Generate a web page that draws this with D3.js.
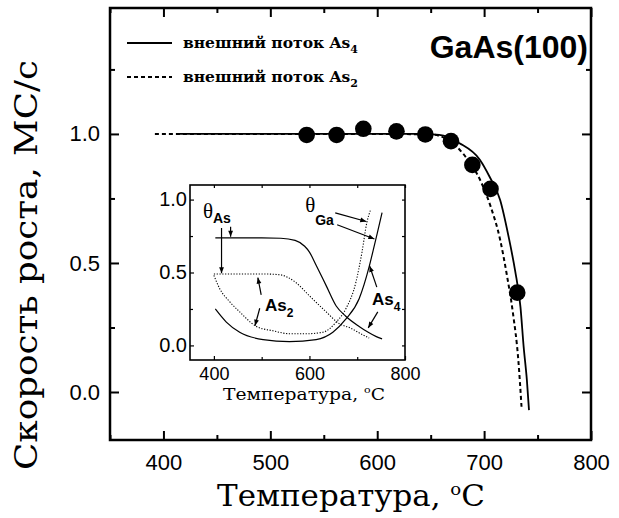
<!DOCTYPE html>
<html>
<head>
<meta charset="utf-8">
<script src="https://cdn.jsdelivr.net/npm/d3@7"></script>
<style>
  body { margin: 0; background: #fff; }
  svg { display: block; }
</style>
</head>
<body>
<svg id="chart" width="619" height="518"></svg>
<script>
'use strict';

// main plot: growth rate (ML/s) vs temperature, As4 flux (solid)
var temps4 = [413, 500, 600, 640, 658, 677, 696, 705, 715, 723, 729, 734, 737, 740, 742];
var rate4 = [1.0, 1.0, 1.0, 1.0, 0.996, 0.964, 0.90, 0.835, 0.744, 0.60, 0.47, 0.33, 0.175, 0.047, -0.07];

// As2 flux (dashed)
var temps2 = [392, 500, 600, 650, 665, 680, 697, 706, 715, 721, 727, 732, 735];
var rate2 = [1.0, 1.0, 1.0, 0.998, 0.98, 0.925, 0.815, 0.72, 0.59, 0.46, 0.305, 0.124, -0.057];

// measured points
var pointTemps = [534, 562, 587, 618, 645, 669, 689, 706, 731];
var pointRates = [0.996, 0.996, 1.02, 1.01, 0.998, 0.972, 0.88, 0.787, 0.385];

// inset: surface coverages
var thetaAsTemps4 = [403, 450, 500, 540, 570, 590, 600, 614, 635, 656, 676, 704, 723, 740, 752];
var thetaAs4 = [0.737, 0.737, 0.737, 0.735, 0.72, 0.68, 0.64, 0.55, 0.41, 0.27, 0.20, 0.13, 0.09, 0.06, 0.045];

var thetaAsTemps2 = [400, 450, 500, 537, 572, 600, 635, 662, 685, 713, 725];
var thetaAs2 = [0.49, 0.49, 0.49, 0.485, 0.43, 0.34, 0.23, 0.15, 0.12, 0.07, 0.05];

var thetaGaTemps4 = [403, 426, 454, 503, 558, 614, 649, 676, 704, 725, 734, 742, 752];
var thetaGa4 = [0.25, 0.16, 0.09, 0.04, 0.026, 0.04, 0.09, 0.18, 0.32, 0.54, 0.66, 0.77, 0.91];

var thetaGaTemps2 = [400, 412, 433, 454, 489, 524, 558, 593, 628, 656, 676, 697, 710, 720, 728];
var thetaGa2 = [0.48, 0.39, 0.30, 0.23, 0.13, 0.10, 0.08, 0.08, 0.09, 0.16, 0.25, 0.43, 0.64, 0.84, 0.93];

// ticks
var xTicks = [400, 500, 600, 700, 800];
var xMinor = [350, 450, 550, 650, 750];
var yTicks = [0.0, 0.5, 1.0];
var yMinor = [0.25, 0.75, 1.25];
var insetXTicks = [400, 600, 800];
var insetXMinor = [500, 700];
var insetYTicks = [0.0, 0.5, 1.0];
var insetYMinor = [0.25, 0.75];

var serif = '"DejaVu Serif", "Liberation Serif", serif';
var sans = '"Liberation Sans", Arial, sans-serif';

var svg = d3.select('#chart');

var x = d3.scaleLinear().domain([350, 800]).range([110, 591]);
var y = d3.scaleLinear().domain([-0.186, 1.488]).range([440, 8]);

svg.append('defs').append('marker')
  .attr('id', 'arrowhead')
  .attr('viewBox', '0 0 10 10')
  .attr('refX', 10).attr('refY', 5)
  .attr('markerWidth', 7).attr('markerHeight', 6)
  .attr('markerUnits', 'userSpaceOnUse')
  .attr('orient', 'auto')
  .append('path').attr('d', 'M0,1L10,5L0,9Z').attr('fill', '#000');

function styleAxis(g, fontSize, width) {
  g.select('.domain').remove();
  g.selectAll('line').attr('stroke', '#000').attr('stroke-width', width);
  g.selectAll('text').attr('fill', '#000')
    .style('font-family', sans).style('font-size', fontSize + 'px');
}

// ---- main axes
var bx = x.range(), by = y.range();

svg.append('g').attr('transform', 'translate(0,' + by[0] + ')')
  .call(d3.axisBottom(x).tickValues(xTicks).tickSize(-9).tickSizeOuter(0)
    .tickPadding(14).tickFormat(d3.format('d')))
  .call(styleAxis, 22, 2);
svg.append('g').attr('transform', 'translate(0,' + by[0] + ')')
  .call(d3.axisBottom(x).tickValues(xMinor).tickSize(-5).tickSizeOuter(0).tickFormat(''))
  .call(styleAxis, 22, 2);
svg.append('g').attr('transform', 'translate(0,' + by[1] + ')')
  .call(d3.axisTop(x).tickValues(xTicks).tickSize(-9).tickSizeOuter(0).tickFormat(''))
  .call(styleAxis, 22, 2);
svg.append('g').attr('transform', 'translate(0,' + by[1] + ')')
  .call(d3.axisTop(x).tickValues(xMinor).tickSize(-5).tickSizeOuter(0).tickFormat(''))
  .call(styleAxis, 22, 2);

svg.append('g').attr('transform', 'translate(' + bx[0] + ',0)')
  .call(d3.axisLeft(y).tickValues(yTicks).tickSize(-9).tickSizeOuter(0)
    .tickPadding(10).tickFormat(d3.format('.1f')))
  .call(styleAxis, 22, 2);
svg.append('g').attr('transform', 'translate(' + bx[0] + ',0)')
  .call(d3.axisLeft(y).tickValues(yMinor).tickSize(-5).tickSizeOuter(0).tickFormat(''))
  .call(styleAxis, 22, 2);
svg.append('g').attr('transform', 'translate(' + bx[1] + ',0)')
  .call(d3.axisRight(y).tickValues(yTicks).tickSize(-9).tickSizeOuter(0).tickFormat(''))
  .call(styleAxis, 22, 2);
svg.append('g').attr('transform', 'translate(' + bx[1] + ',0)')
  .call(d3.axisRight(y).tickValues(yMinor).tickSize(-5).tickSizeOuter(0).tickFormat(''))
  .call(styleAxis, 22, 2);

svg.append('rect')
  .attr('x', bx[0]).attr('y', by[1])
  .attr('width', bx[1] - bx[0]).attr('height', by[0] - by[1])
  .attr('fill', 'none').attr('stroke', '#000').attr('stroke-width', 2.5);

// ---- main curves
var line = d3.line()
  .x(function (d) { return x(d[0]); })
  .y(function (d) { return y(d[1]); })
  .curve(d3.curveMonotoneX);

svg.append('path').datum(d3.zip(temps2, rate2))
  .attr('d', line).attr('fill', 'none').attr('stroke', '#000')
  .attr('stroke-width', 2).attr('stroke-dasharray', '4,3');

svg.append('path').datum(d3.zip(temps4, rate4))
  .attr('d', line).attr('fill', 'none').attr('stroke', '#000')
  .attr('stroke-width', 1.8);

svg.selectAll('.pt')
  .data(d3.zip(pointTemps, pointRates))
  .enter()
  .append('circle')
  .attr('class', 'pt')
  .attr('cx', function (d) { return x(d[0]); })
  .attr('cy', function (d) { return y(d[1]); })
  .attr('r', 8.3)
  .attr('fill', '#000');

// ---- legend
var legend = [
  { sub: '4', dash: null, ly: 43 },
  { sub: '2', dash: '4,3', ly: 77 }
];
legend.forEach(function (item) {
  svg.append('line')
    .attr('x1', 127).attr('x2', 172).attr('y1', item.ly).attr('y2', item.ly)
    .attr('stroke', '#000').attr('stroke-width', 1.8)
    .attr('stroke-dasharray', item.dash);
  var t = svg.append('text')
    .attr('x', 183).attr('y', item.ly + 5)
    .style('font-family', serif).style('font-size', '15.5px').style('font-weight', 'bold');
  t.append('tspan').text('внешний поток As');
  t.append('tspan').attr('dy', 5).style('font-size', '11px').text(item.sub);
});

svg.append('text')
  .attr('x', 588).attr('y', 58)
  .attr('text-anchor', 'end')
  .style('font-family', sans).style('font-size', '32px').style('font-weight', 'bold')
  .text('GaAs(100)');

// ---- axis titles
svg.append('text')
  .attr('transform', 'translate(37,265) rotate(-90)')
  .attr('text-anchor', 'middle')
  .attr('textLength', 410).attr('lengthAdjust', 'spacingAndGlyphs')
  .style('font-family', serif).style('font-size', '32px')
  .text('Скорость роста, МС/с');

var xt = svg.append('text')
  .attr('x', 217).attr('y', 506)
  .attr('textLength', 268).attr('lengthAdjust', 'spacingAndGlyphs')
  .style('font-family', serif).style('font-size', '29px');
xt.append('tspan').text('Температура, ');
xt.append('tspan').attr('dy', -11).style('font-size', '17px').text('o');
xt.append('tspan').attr('dy', 11).text('C');

// ---- inset
var xi = d3.scaleLinear().domain([350, 800]).range([190, 405]);
var yi = d3.scaleLinear().domain([-0.1, 1.1]).range([360, 185]);
var ix = xi.range(), iy = yi.range();

var inset = svg.append('g');
inset.append('rect')
  .attr('x', ix[0]).attr('y', iy[1])
  .attr('width', ix[1] - ix[0]).attr('height', iy[0] - iy[1])
  .attr('fill', '#fff');

inset.append('g').attr('transform', 'translate(0,' + iy[0] + ')')
  .call(d3.axisBottom(xi).tickValues(insetXTicks).tickSize(-4).tickSizeOuter(0)
    .tickPadding(7).tickFormat(d3.format('d')))
  .call(styleAxis, 18, 1.2);
inset.append('g').attr('transform', 'translate(0,' + iy[0] + ')')
  .call(d3.axisBottom(xi).tickValues(insetXMinor).tickSize(-3).tickSizeOuter(0).tickFormat(''))
  .call(styleAxis, 18, 1.2);
inset.append('g').attr('transform', 'translate(0,' + iy[1] + ')')
  .call(d3.axisTop(xi).tickValues(insetXTicks.concat(insetXMinor)).tickSize(-3).tickSizeOuter(0).tickFormat(''))
  .call(styleAxis, 18, 1.2);
inset.append('g').attr('transform', 'translate(' + ix[0] + ',0)')
  .call(d3.axisLeft(yi).tickValues(insetYTicks).tickSize(-4).tickSizeOuter(0)
    .tickPadding(3).tickFormat(d3.format('.1f')))
  .call(styleAxis, 20, 1.2);
inset.append('g').attr('transform', 'translate(' + ix[0] + ',0)')
  .call(d3.axisLeft(yi).tickValues(insetYMinor).tickSize(-3).tickSizeOuter(0).tickFormat(''))
  .call(styleAxis, 20, 1.2);
inset.append('g').attr('transform', 'translate(' + ix[1] + ',0)')
  .call(d3.axisRight(yi).tickValues(insetYTicks.concat(insetYMinor)).tickSize(-3).tickSizeOuter(0).tickFormat(''))
  .call(styleAxis, 20, 1.2);

inset.append('rect')
  .attr('x', ix[0]).attr('y', iy[1])
  .attr('width', ix[1] - ix[0]).attr('height', iy[0] - iy[1])
  .attr('fill', 'none').attr('stroke', '#000').attr('stroke-width', 1.6);

var iline = d3.line()
  .x(function (d) { return xi(d[0]); })
  .y(function (d) { return yi(d[1]); })
  .curve(d3.curveMonotoneX);

[
  [thetaAsTemps4, thetaAs4, null],
  [thetaGaTemps4, thetaGa4, null],
  [thetaAsTemps2, thetaAs2, '1.2,1.6'],
  [thetaGaTemps2, thetaGa2, '1.2,1.6']
].forEach(function (c) {
  inset.append('path').datum(d3.zip(c[0], c[1]))
    .attr('d', iline).attr('fill', 'none').attr('stroke', '#000')
    .attr('stroke-width', c[2] ? 1.1 : 1.2)
    .attr('stroke-dasharray', c[2]);
});

// annotation arrows, in inset data units [T0, v0, T1, v1]
var arrows = [
  [435, 0.814, 435, 0.745],
  [416, 0.805, 416, 0.495],
  [499, 0.346, 492, 0.465],
  [496, 0.255, 486, 0.135],
  [654, 0.909, 719, 0.85],
  [658, 0.827, 736, 0.73],
  [741, 0.40, 726, 0.545],
  [743, 0.23, 723, 0.12]
];
inset.selectAll('.arrow')
  .data(arrows)
  .enter()
  .append('line')
  .attr('class', 'arrow')
  .attr('x1', function (d) { return xi(d[0]); })
  .attr('y1', function (d) { return yi(d[1]); })
  .attr('x2', function (d) { return xi(d[2]); })
  .attr('y2', function (d) { return yi(d[3]); })
  .attr('stroke', '#000').attr('stroke-width', 1.2)
  .attr('marker-end', 'url(#arrowhead)');

function insetLabel(T, v, main, mainFont, mainSize, sub, subSize, dy) {
  var t = inset.append('text').attr('x', xi(T)).attr('y', yi(v));
  t.append('tspan').style('font-family', mainFont).style('font-size', mainSize + 'px')
    .style('font-weight', mainFont === sans ? 'bold' : 'normal').text(main);
  t.append('tspan').attr('dy', dy).style('font-family', sans).style('font-size', subSize + 'px')
    .style('font-weight', 'bold').text(sub);
}
insetLabel(377, 0.874, 'θ', '"Liberation Serif", serif', 21, 'As', 14, 5);
insetLabel(591, 0.917, 'θ', '"Liberation Serif", serif', 21, 'Ga', 14, 13);
insetLabel(507, 0.237, 'As', sans, 17, '2', 12, 6);
insetLabel(731, 0.278, 'As', sans, 17, '4', 12, 6);

var ixt = inset.append('text')
  .attr('x', 223).attr('y', 400)
  .attr('textLength', 162).attr('lengthAdjust', 'spacingAndGlyphs')
  .style('font-family', serif).style('font-size', '17px');
ixt.append('tspan').text('Температура, ');
ixt.append('tspan').attr('dy', -7).style('font-size', '10px').text('o');
ixt.append('tspan').attr('dy', 7).text('C');
</script>
</body>
</html>
